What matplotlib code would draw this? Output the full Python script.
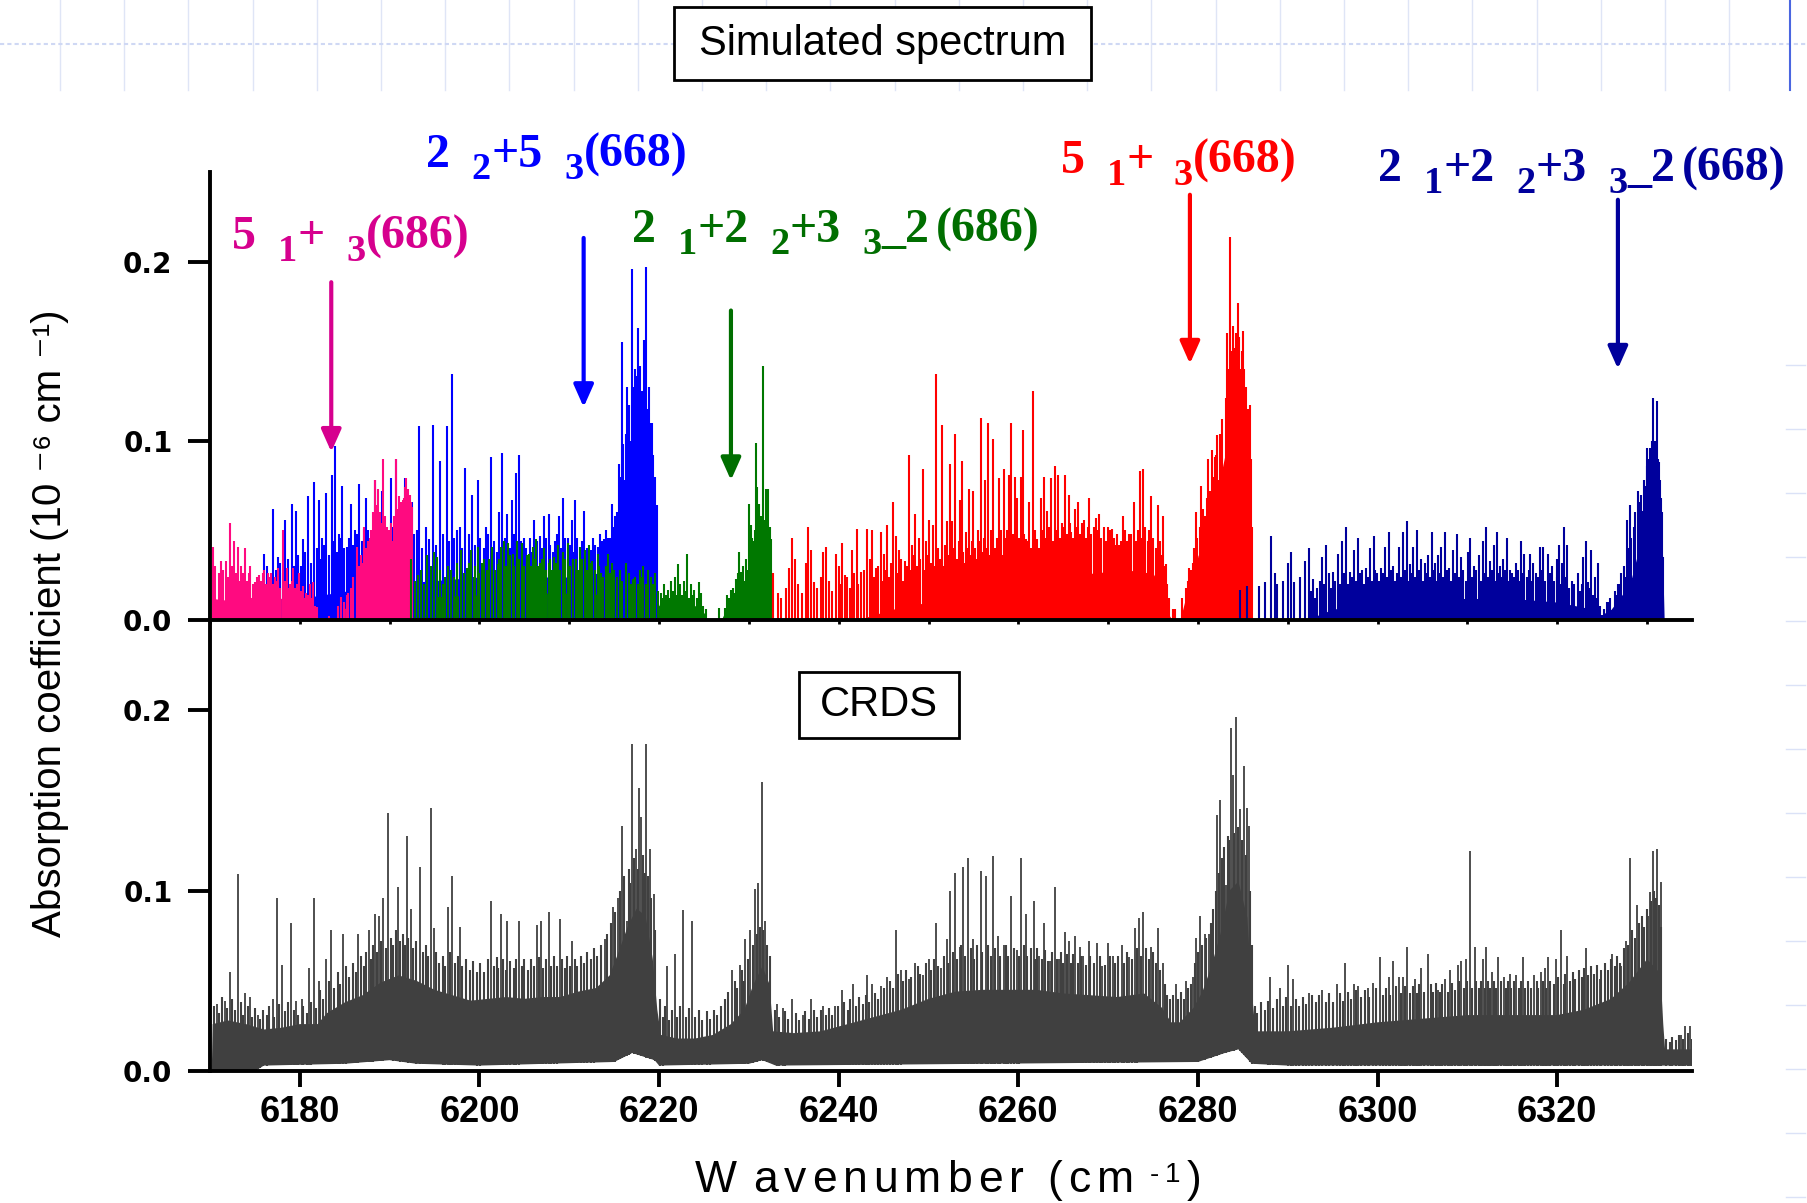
import numpy as np
import matplotlib
matplotlib.use("Agg")
import matplotlib.pyplot as plt
from matplotlib.patches import Rectangle
from matplotlib.lines import Line2D
from matplotlib.ticker import MultipleLocator

W, H = 1807, 1203
plt.rcParams['font.family'] = ['Liberation Sans', 'DejaVu Sans']

# ---- simulated stick spectra (wavenumber in cm-1, absorption in 1e-6 cm-1) ----
pink_wn = [6170.37, 6170.95, 6171.27, 6171.81, 6172.20, 6172.71, 6173.10, 6173.49, 6173.88, 6174.47,
           6175.06, 6175.45, 6176.03, 6176.42, 6176.82, 6177.21, 6177.60, 6178.18, 6178.57, 6178.96,
           6179.24, 6179.94, 6180.33, 6180.72, 6181.11, 6181.50, 6181.90, 6183.26,
           6184.63, 6185.41, 6186.39, 6187.17, 6187.76, 6188.34, 6188.73, 6189.24, 6189.71, 6190.30,
           6190.69, 6191.08, 6191.47, 6191.86, 6192.06, 6192.45]
pink_h = [0.041, 0.026, 0.033, 0.033, 0.054, 0.044, 0.041, 0.030, 0.040, 0.030,
          0.021, 0.025, 0.028, 0.026, 0.026, 0.024, 0.029, 0.050, 0.029, 0.020,
          0.029, 0.026, 0.019, 0.015, 0.020, 0.021, 0.007, 0.002,
          0.013, 0.015, 0.041, 0.052, 0.046, 0.078, 0.073, 0.090, 0.052, 0.044,
          0.090, 0.069, 0.067, 0.079, 0.073, 0.063]
pink_weak = [(6170.6, 0.030), (6171.1, 0.022), (6171.5, 0.028), (6172.0, 0.024), (6172.45, 0.030),
             (6172.9, 0.026), (6173.3, 0.022), (6173.7, 0.026), (6174.1, 0.022), (6174.3, 0.026),
             (6174.75, 0.020), (6175.25, 0.024), (6175.7, 0.022), (6175.85, 0.026), (6176.25, 0.020),
             (6176.6, 0.024), (6177.0, 0.020), (6177.4, 0.022), (6177.8, 0.018), (6178.35, 0.022),
             (6178.75, 0.018), (6179.1, 0.022), (6179.45, 0.018), (6179.7, 0.020), (6180.1, 0.016),
             (6180.5, 0.012), (6180.9, 0.014), (6181.3, 0.012), (6181.7, 0.008),
             (6184.2, 0.008), (6184.9, 0.010), (6185.2, 0.014), (6185.7, 0.018), (6185.95, 0.024),
             (6186.6, 0.030), (6186.8, 0.036), (6187.0, 0.032), (6187.4, 0.040), (6187.55, 0.044),
             (6187.95, 0.050), (6188.15, 0.060), (6188.5, 0.064), (6188.95, 0.060), (6189.1, 0.054),
             (6189.45, 0.058), (6189.9, 0.050), (6190.1, 0.054), (6190.5, 0.058), (6190.85, 0.062),
             (6191.25, 0.066), (6191.65, 0.068), (6191.75, 0.074), (6192.25, 0.070), (6192.35, 0.066)]
pink_fill_wn = [6170.2, 6170.3, 6172, 6174, 6176, 6178, 6180, 6181.5, 6182.2, 6182.4,
                6183.7, 6183.85, 6184.63, 6185.41, 6186.19, 6186.98, 6187.76, 6188.15, 6188.54, 6188.93,
                6189.32, 6190.10, 6190.49, 6190.88, 6191.27, 6191.66, 6192.25, 6192.45, 6192.55]
pink_fill_h = [0.0, 0.012, 0.011, 0.012, 0.014, 0.012, 0.009, 0.006, 0.002, 0.0,
               0.0, 0.004, 0.005, 0.008, 0.014, 0.018, 0.030, 0.036, 0.045, 0.042,
               0.040, 0.034, 0.036, 0.044, 0.050, 0.052, 0.052, 0.048, 0.0]

blue_wn = [6175.96, 6177.01, 6177.52, 6178.38, 6179.08, 6179.55, 6180.33, 6180.92, 6181.58, 6182.09,
           6182.48, 6182.87, 6183.54, 6183.93, 6184.32, 6184.75, 6185.22, 6185.73, 6186.19, 6186.59,
           6187.17, 6187.37, 6188.34, 6189.13, 6190.10, 6190.69, 6191.74, 6192.45, 6193.23, 6194.01,
           6194.79, 6195.65, 6196.35, 6196.98, 6197.45, 6197.84, 6198.39, 6199.17, 6199.87, 6200.73,
           6201.28, 6202.14, 6202.53, 6203.08, 6203.58, 6204.09, 6204.40, 6204.95, 6206.12, 6206.71,
           6207.22, 6207.69, 6208.66, 6208.86, 6209.25, 6209.84, 6210.30, 6210.62, 6211.67, 6212.38,
           6213.16, 6213.86, 6214.33, 6214.72, 6215.11, 6215.50, 6215.9, 6216.1, 6216.4, 6216.5,
           6216.9, 6217.0, 6217.4, 6217.7, 6217.9, 6218.3, 6218.5, 6218.9, 6219.2, 6219.6]
blue_h = [0.037, 0.062, 0.035, 0.056, 0.065, 0.061, 0.045, 0.069, 0.077, 0.067,
          0.046, 0.071, 0.081, 0.097, 0.048, 0.075, 0.041, 0.065, 0.050, 0.076,
          0.051, 0.068, 0.078, 0.072, 0.079, 0.090, 0.079, 0.066, 0.108, 0.052,
          0.109, 0.089, 0.108, 0.137, 0.050, 0.052, 0.085, 0.070, 0.078, 0.052,
          0.091, 0.060, 0.093, 0.059, 0.067, 0.082, 0.092, 0.046, 0.056, 0.047,
          0.058, 0.059, 0.048, 0.058, 0.068, 0.046, 0.056, 0.067, 0.061, 0.039,
          0.041, 0.045, 0.046, 0.065, 0.058, 0.087, 0.155, 0.078, 0.130, 0.084,
          0.100, 0.196, 0.120, 0.163, 0.142, 0.156, 0.197, 0.130, 0.110, 0.058]
blue_weak = [(6176.4, 0.030), (6176.7, 0.024), (6177.3, 0.028), (6177.8, 0.032), (6178.1, 0.026),
             (6178.7, 0.034), (6179.3, 0.030), (6179.8, 0.036), (6180.1, 0.030), (6180.6, 0.038),
             (6181.2, 0.032), (6181.9, 0.040), (6182.3, 0.034), (6182.7, 0.042), (6183.2, 0.036),
             (6183.7, 0.044), (6184.1, 0.038), (6184.55, 0.046), (6184.95, 0.040), (6185.5, 0.046),
             (6185.95, 0.042), (6186.4, 0.048), (6186.9, 0.044), (6187.6, 0.050), (6187.9, 0.044),
             (6188.6, 0.050), (6189.0, 0.046), (6189.5, 0.052), (6189.8, 0.048), (6190.4, 0.052),
             (6190.9, 0.048), (6191.3, 0.054), (6191.6, 0.050), (6192.0, 0.054), (6192.7, 0.048),
             (6193.0, 0.050), (6193.6, 0.040), (6194.4, 0.045), (6195.2, 0.042), (6195.9, 0.048),
             (6196.6, 0.044), (6197.2, 0.046), (6198.1, 0.040), (6198.8, 0.048), (6199.5, 0.042),
             (6200.1, 0.046), (6200.5, 0.040), (6201.0, 0.048), (6201.6, 0.044), (6201.9, 0.038),
             (6202.8, 0.046), (6203.35, 0.040), (6203.85, 0.048), (6204.6, 0.044), (6205.2, 0.040),
             (6205.6, 0.046), (6205.9, 0.038), (6206.4, 0.044), (6206.95, 0.040), (6207.45, 0.046),
             (6207.9, 0.042), (6208.2, 0.038), (6208.45, 0.044), (6209.05, 0.040), (6209.55, 0.046),
             (6210.05, 0.042), (6210.45, 0.038), (6210.9, 0.046), (6211.25, 0.040), (6211.45, 0.044),
             (6211.95, 0.040), (6212.6, 0.046), (6212.9, 0.042), (6213.4, 0.048), (6213.65, 0.044),
             (6214.1, 0.050), (6214.5, 0.046), (6214.9, 0.052),
             (6215.3, 0.060), (6215.7, 0.080), (6216.0, 0.098), (6216.3, 0.104), (6216.7, 0.120),
             (6217.15, 0.130), (6217.3, 0.140), (6217.55, 0.136), (6217.8, 0.130), (6218.1, 0.128),
             (6218.4, 0.124), (6218.7, 0.118), (6219.0, 0.110), (6219.35, 0.092), (6219.5, 0.080),
             (6219.75, 0.064)]
blue_fill_wn = [6175.5, 6176.0, 6180, 6185, 6190, 6195, 6200, 6205, 6210, 6213,
                6214.5, 6215.0, 6215.5, 6215.8, 6216.2, 6216.6, 6217.0, 6217.4, 6217.8, 6218.2,
                6218.6, 6219.0, 6219.4, 6219.7, 6219.85]
blue_fill_h = [0.0, 0.008, 0.012, 0.016, 0.020, 0.022, 0.024, 0.024, 0.024, 0.026,
               0.030, 0.035, 0.045, 0.060, 0.070, 0.080, 0.090, 0.095, 0.095, 0.092,
               0.088, 0.080, 0.068, 0.050, 0.0]

green_wn = [6192.37, 6193.15, 6194.21, 6194.99, 6195.26, 6196.16, 6196.82, 6197.92, 6198.62, 6199.01,
            6199.79, 6200.26, 6201.43, 6202.02, 6202.41, 6202.68, 6203.19, 6203.70, 6204.17, 6204.76,
            6205.54, 6205.93, 6206.32, 6206.71, 6207.22, 6207.69, 6208.27, 6208.78, 6209.25, 6209.84,
            6210.42, 6211.20, 6211.79, 6212.18, 6212.57, 6213.16, 6213.55, 6214.33, 6214.72, 6216.28,
            6217.06, 6217.85, 6218.24, 6218.82, 6219.60, 6220.19, 6220.58, 6220.97, 6221.36, 6221.75,
            6222.07, 6222.34, 6222.73, 6223.12, 6223.51, 6223.90, 6224.41, 6224.69, 6225.27, 6226.71,
            6227.34, 6227.61, 6228.00, 6228.59, 6228.90, 6229.17, 6229.56, 6229.96, 6230.23, 6230.54,
            6230.74, 6230.93, 6231.13, 6231.52, 6231.91, 6232.18, 6232.42]
green_h = [0.034, 0.025, 0.036, 0.038, 0.035, 0.024, 0.028, 0.039, 0.029, 0.039,
           0.041, 0.032, 0.041, 0.031, 0.041, 0.044, 0.043, 0.037, 0.044, 0.043,
           0.037, 0.041, 0.045, 0.032, 0.040, 0.032, 0.035, 0.042, 0.038, 0.043,
           0.034, 0.041, 0.039, 0.042, 0.033, 0.037, 0.026, 0.037, 0.032, 0.032,
           0.023, 0.028, 0.030, 0.028, 0.026, 0.015, 0.020, 0.017, 0.022, 0.024,
           0.031, 0.020, 0.022, 0.037, 0.020, 0.017, 0.021, 0.015, 0.006, 0.0065,
           0.0065, 0.014, 0.017, 0.023, 0.038, 0.027, 0.022, 0.065, 0.053, 0.044,
           0.099, 0.074, 0.065, 0.142, 0.073, 0.073, 0.045]
green_weak = [(6192.8, 0.022), (6193.5, 0.028), (6193.85, 0.020), (6194.55, 0.030), (6195.6, 0.028),
              (6195.9, 0.020), (6196.45, 0.030), (6197.15, 0.024), (6197.5, 0.032), (6198.25, 0.026),
              (6198.85, 0.032), (6199.35, 0.024), (6199.55, 0.030), (6200.0, 0.026), (6200.55, 0.034),
              (6200.85, 0.028), (6201.1, 0.034), (6201.7, 0.028), (6202.2, 0.034), (6202.9, 0.030),
              (6203.45, 0.036), (6203.9, 0.030), (6204.45, 0.034), (6205.0, 0.030), (6205.25, 0.036),
              (6205.7, 0.030), (6206.1, 0.034), (6206.5, 0.030), (6206.95, 0.034), (6207.45, 0.028),
              (6207.9, 0.034), (6208.05, 0.028), (6208.5, 0.032), (6209.0, 0.028), (6209.5, 0.034),
              (6210.1, 0.030), (6210.7, 0.034), (6210.95, 0.028), (6211.45, 0.034), (6212.0, 0.028),
              (6212.35, 0.032), (6212.85, 0.028), (6213.35, 0.030), (6213.8, 0.024), (6214.05, 0.030),
              (6214.5, 0.026), (6214.95, 0.028), (6215.3, 0.024), (6215.6, 0.028), (6215.9, 0.022),
              (6216.6, 0.026), (6216.85, 0.020), (6217.3, 0.024), (6217.6, 0.020), (6218.05, 0.024),
              (6218.5, 0.020), (6219.05, 0.024), (6219.3, 0.020), (6219.85, 0.016), (6220.4, 0.012),
              (6220.8, 0.014), (6221.15, 0.012), (6221.55, 0.016), (6221.9, 0.014), (6222.5, 0.014),
              (6222.9, 0.016), (6223.3, 0.012), (6223.7, 0.014), (6224.2, 0.012), (6224.55, 0.010),
              (6224.85, 0.008),
              (6227.8, 0.012), (6228.2, 0.018), (6228.45, 0.015), (6228.75, 0.026), (6229.05, 0.022),
              (6229.35, 0.030), (6229.7, 0.034), (6229.85, 0.028), (6230.1, 0.040), (6230.35, 0.046),
              (6230.65, 0.050), (6230.85, 0.046), (6231.05, 0.052), (6231.25, 0.048), (6231.4, 0.058),
              (6231.65, 0.052), (6231.8, 0.056), (6232.05, 0.050), (6232.3, 0.052)]
green_fill_wn = [6192.2, 6192.4, 6195, 6200, 6205, 6210, 6215, 6219.7, 6220.0, 6222,
                 6224, 6225.0, 6225.4, 6226.9, 6227.3, 6227.8, 6228.3, 6228.8, 6229.3, 6229.8,
                 6230.2, 6230.6, 6231.0, 6231.4, 6231.8, 6232.2, 6232.5, 6232.6]
green_fill_h = [0.0, 0.012, 0.013, 0.014, 0.015, 0.015, 0.014, 0.013, 0.008, 0.009,
                0.008, 0.004, 0.0, 0.0, 0.004, 0.008, 0.012, 0.016, 0.018, 0.022,
                0.032, 0.036, 0.038, 0.040, 0.036, 0.034, 0.034, 0.0]

red_wn = [6232.69, 6233.28, 6234.45, 6234.84, 6235.15, 6236.33, 6236.60, 6236.91, 6237.26, 6238.04,
          6238.28, 6238.63, 6239.72, 6240.04, 6240.39, 6240.70, 6241.48, 6241.99, 6242.46, 6243.12,
          6243.44, 6243.71, 6244.10, 6244.69, 6245.00, 6245.39, 6245.78, 6246.09, 6246.37, 6246.76,
          6247.34, 6247.85, 6248.13, 6248.52, 6248.91, 6249.38, 6249.69, 6250.08, 6250.47, 6250.86,
          6251.49, 6252.03, 6252.35, 6252.62, 6252.97, 6253.52, 6253.68, 6254.18, 6254.46, 6254.97,
          6255.55, 6255.83, 6256.33, 6256.65, 6256.92, 6257.23, 6257.82, 6258.09, 6258.37, 6258.68,
          6258.99, 6259.22, 6259.66, 6259.85, 6260.24, 6260.51, 6260.83, 6261.22, 6261.61, 6262.12,
          6262.51, 6262.90, 6263.17, 6263.68, 6264.07, 6264.46, 6264.85, 6265.24, 6265.63, 6265.91,
          6266.30, 6266.69, 6267.27, 6267.86, 6268.37, 6268.64, 6269.03, 6269.93, 6270.40, 6271.18,
          6271.65, 6272.36, 6272.82, 6273.53, 6273.92, 6274.82, 6275.56, 6276.07, 6276.46, 6277.44,
          6278.22, 6278.61, 6279.00, 6279.39, 6279.78, 6280.37, 6280.95, 6281.15, 6281.54, 6281.93,
          6282.12, 6282.30, 6282.95, 6283.2, 6283.4, 6283.6, 6283.9, 6284.1, 6284.4, 6284.7,
          6285.0, 6285.4, 6285.75, 6285.96]
red_h = [0.026, 0.015, 0.029, 0.046, 0.034, 0.032, 0.052, 0.039, 0.021, 0.024,
         0.038, 0.041, 0.037, 0.030, 0.043, 0.025, 0.039, 0.051, 0.027, 0.051,
         0.034, 0.050, 0.029, 0.049, 0.037, 0.053, 0.032, 0.066, 0.047, 0.039,
         0.033, 0.092, 0.042, 0.059, 0.046, 0.084, 0.044, 0.056, 0.053, 0.137,
         0.109, 0.055, 0.087, 0.055, 0.104, 0.067, 0.089, 0.049, 0.073, 0.072,
         0.050, 0.113, 0.078, 0.110, 0.050, 0.101, 0.079, 0.050, 0.084, 0.050,
         0.081, 0.110, 0.080, 0.068, 0.080, 0.106, 0.045, 0.066, 0.128, 0.045,
         0.068, 0.080, 0.061, 0.079, 0.086, 0.081, 0.054, 0.081, 0.070, 0.049,
         0.062, 0.066, 0.056, 0.068, 0.052, 0.057, 0.059, 0.052, 0.051, 0.042,
         0.058, 0.048, 0.066, 0.083, 0.084, 0.069, 0.064, 0.058, 0.031, 0.006,
         0.012, 0.018, 0.029, 0.032, 0.060, 0.075, 0.068, 0.090, 0.095, 0.091,
         0.103, 0.078, 0.084, 0.160, 0.118, 0.214, 0.164, 0.152, 0.177, 0.140,
         0.161, 0.110, 0.120, 0.052]
red_weak = [(6233.6, 0.012), (6234.1, 0.018), (6235.5, 0.020), (6235.9, 0.015), (6237.6, 0.018),
            (6238.9, 0.022), (6239.3, 0.016), (6240.2, 0.020), (6240.9, 0.024), (6241.2, 0.018),
            (6241.7, 0.026), (6242.2, 0.020), (6242.8, 0.028), (6243.9, 0.024), (6244.4, 0.030),
            (6244.85, 0.022), (6245.2, 0.028), (6245.6, 0.024), (6245.95, 0.030), (6246.55, 0.026),
            (6246.95, 0.034), (6247.15, 0.022), (6247.55, 0.030), (6247.95, 0.028), (6248.3, 0.036),
            (6248.7, 0.030), (6249.1, 0.034), (6249.55, 0.028), (6249.85, 0.036), (6250.25, 0.032),
            (6250.65, 0.030), (6251.05, 0.040), (6251.3, 0.034), (6251.7, 0.030), (6251.85, 0.042),
            (6252.2, 0.036), (6252.5, 0.030), (6252.8, 0.040), (6253.15, 0.034), (6253.35, 0.044),
            (6253.85, 0.038), (6254.05, 0.032), (6254.3, 0.040), (6254.65, 0.036), (6254.8, 0.044),
            (6255.15, 0.040), (6255.35, 0.034), (6255.7, 0.044), (6256.0, 0.038), (6256.15, 0.046),
            (6256.5, 0.040), (6256.8, 0.036), (6257.05, 0.044), (6257.4, 0.040), (6257.6, 0.046),
            (6257.95, 0.040), (6258.2, 0.036), (6258.55, 0.046), (6258.85, 0.042), (6259.1, 0.038),
            (6259.4, 0.048), (6259.75, 0.042), (6260.05, 0.046), (6260.4, 0.040), (6260.65, 0.048),
            (6261.0, 0.044), (6261.4, 0.040), (6261.8, 0.050), (6261.95, 0.044), (6262.3, 0.040),
            (6262.7, 0.050), (6263.0, 0.046), (6263.4, 0.052), (6263.85, 0.044), (6264.25, 0.050),
            (6264.65, 0.046), (6265.05, 0.052), (6265.45, 0.048), (6265.75, 0.054), (6266.1, 0.046),
            (6266.5, 0.052), (6266.9, 0.048), (6267.1, 0.054), (6267.5, 0.046), (6267.7, 0.052),
            (6268.1, 0.048), (6268.5, 0.044), (6268.85, 0.050), (6269.2, 0.046), (6269.5, 0.052),
            (6269.75, 0.044), (6270.15, 0.050), (6270.6, 0.046), (6270.85, 0.042), (6271.0, 0.048),
            (6271.4, 0.044), (6271.85, 0.050), (6272.1, 0.044), (6272.55, 0.048), (6273.05, 0.044),
            (6273.3, 0.050), (6273.75, 0.046), (6274.15, 0.052), (6274.4, 0.044), (6274.6, 0.050),
            (6275.0, 0.046), (6275.3, 0.040), (6275.75, 0.044), (6275.9, 0.036), (6276.25, 0.030),
            (6276.6, 0.020), (6276.8, 0.012), (6277.2, 0.006),
            (6278.9, 0.022), (6279.2, 0.028), (6279.6, 0.040), (6279.9, 0.046), (6280.2, 0.052),
            (6280.6, 0.062), (6280.8, 0.058), (6281.3, 0.072), (6281.7, 0.080), (6282.0, 0.092),
            (6282.5, 0.104), (6282.7, 0.112), (6283.1, 0.124), (6283.3, 0.140), (6283.7, 0.150),
            (6284.0, 0.148), (6284.25, 0.160), (6284.55, 0.158), (6284.85, 0.150), (6285.15, 0.140),
            (6285.3, 0.130), (6285.55, 0.118), (6285.85, 0.090)]
red_fill_wn = [6242, 6246, 6250, 6255, 6260, 6264, 6268, 6272, 6275, 6276.2,
               6276.6, 6277.0, 6277.8, 6278.0, 6278.5, 6279.0, 6279.5, 6280.0, 6280.5, 6281.0,
               6281.5, 6282.0, 6282.5, 6283.0, 6283.5, 6284.0, 6284.5, 6285.0, 6285.5, 6285.8,
               6285.95]
red_fill_h = [0.0, 0.006, 0.010, 0.014, 0.018, 0.022, 0.026, 0.028, 0.026, 0.015,
              0.004, 0.001, 0.0, 0.0, 0.010, 0.016, 0.024, 0.036, 0.040, 0.048,
              0.054, 0.070, 0.080, 0.092, 0.110, 0.120, 0.128, 0.120, 0.100, 0.070,
              0.0]

navy_wn = [6284.67, 6285.45, 6286.83, 6287.47, 6288.12, 6288.55, 6288.77, 6289.41, 6290.06, 6290.40,
           6290.70, 6291.35, 6291.91, 6292.34, 6292.77, 6293.81, 6294.24, 6294.58, 6295.02, 6295.58,
           6296.01, 6296.44, 6296.96, 6297.39, 6297.82, 6298.25, 6298.68, 6299.15, 6299.54, 6299.97,
           6300.40, 6300.83, 6301.27, 6301.70, 6302.43, 6302.86, 6303.29, 6303.64, 6303.98, 6304.41,
           6304.84, 6305.27, 6305.58, 6306.01, 6306.44, 6306.74, 6307.08, 6307.52, 6307.95, 6308.38,
           6308.89, 6309.33, 6310.02, 6310.32, 6310.75, 6311.31, 6311.74, 6312.08, 6312.47, 6312.90,
           6313.33, 6313.64, 6313.98, 6314.41, 6314.76, 6315.36, 6315.96, 6316.35, 6317.00, 6317.34,
           6318.08, 6318.38, 6318.94, 6319.37, 6319.93, 6320.23, 6320.53, 6320.79, 6321.09, 6321.65,
           6322.26, 6322.90, 6323.16, 6323.46, 6323.81, 6324.24, 6324.54, 6324.97, 6325.19, 6325.62,
           6326.27, 6326.57, 6326.91, 6327.56, 6327.77, 6328.07, 6328.94, 6329.50, 6329.84, 6330.02,
           6330.28, 6330.71, 6330.88, 6331.14, 6331.31, 6331.57, 6331.78]
navy_h = [0.017, 0.019, 0.019, 0.021, 0.047, 0.026, 0.020, 0.022, 0.032, 0.038,
          0.021, 0.024, 0.033, 0.040, 0.023, 0.035, 0.042, 0.026, 0.027, 0.037,
          0.044, 0.052, 0.027, 0.039, 0.046, 0.028, 0.029, 0.040, 0.047, 0.026,
          0.029, 0.041, 0.049, 0.030, 0.041, 0.049, 0.055, 0.031, 0.041, 0.050,
          0.034, 0.032, 0.036, 0.049, 0.032, 0.036, 0.041, 0.049, 0.029, 0.039,
          0.048, 0.035, 0.038, 0.046, 0.030, 0.036, 0.044, 0.052, 0.033, 0.042,
          0.049, 0.030, 0.034, 0.046, 0.028, 0.032, 0.044, 0.037, 0.037, 0.032,
          0.041, 0.041, 0.037, 0.030, 0.034, 0.042, 0.032, 0.052, 0.042, 0.022,
          0.026, 0.035, 0.044, 0.021, 0.039, 0.024, 0.032, 0.003, 0.006, 0.010,
          0.0065, 0.014, 0.020, 0.024, 0.056, 0.064, 0.072, 0.061, 0.075, 0.096,
          0.096, 0.124, 0.100, 0.122, 0.088, 0.068, 0.035]
navy_weak = [(6292.55, 0.016), (6293.0, 0.012), (6293.3, 0.018), (6293.55, 0.022), (6294.0, 0.020),
             (6294.8, 0.018), (6295.3, 0.022), (6295.8, 0.020), (6296.2, 0.026), (6296.7, 0.020),
             (6297.15, 0.024), (6297.6, 0.022), (6298.05, 0.026), (6298.45, 0.020), (6298.9, 0.024),
             (6299.35, 0.022), (6299.75, 0.028), (6300.2, 0.022), (6300.6, 0.026), (6301.05, 0.024),
             (6301.5, 0.028), (6301.9, 0.022), (6302.15, 0.026), (6302.65, 0.024), (6303.05, 0.028),
             (6303.45, 0.022), (6303.8, 0.026), (6304.2, 0.024), (6304.6, 0.028), (6305.05, 0.022),
             (6305.4, 0.026), (6305.8, 0.024), (6306.2, 0.028), (6306.6, 0.022), (6306.9, 0.026),
             (6307.3, 0.024), (6307.75, 0.028), (6308.15, 0.022), (6308.6, 0.026), (6309.1, 0.024),
             (6309.55, 0.028), (6309.8, 0.022), (6310.15, 0.026), (6310.5, 0.024), (6311.0, 0.028),
             (6311.5, 0.022), (6311.9, 0.026), (6312.25, 0.024), (6312.7, 0.028), (6313.1, 0.022),
             (6313.5, 0.026), (6313.8, 0.024), (6314.2, 0.028), (6314.6, 0.022), (6315.0, 0.026),
             (6315.2, 0.024), (6315.6, 0.028), (6315.8, 0.022), (6316.15, 0.026), (6316.6, 0.024),
             (6316.8, 0.028), (6317.2, 0.022), (6317.6, 0.026), (6317.85, 0.024), (6318.2, 0.028),
             (6318.65, 0.022), (6319.15, 0.026), (6319.6, 0.022), (6320.0, 0.024), (6320.4, 0.020),
             (6320.95, 0.024), (6321.3, 0.018), (6321.9, 0.020), (6322.5, 0.016), (6322.7, 0.020),
             (6323.3, 0.015), (6323.65, 0.018), (6324.0, 0.014), (6324.4, 0.012), (6324.75, 0.008),
             (6325.5, 0.010), (6325.9, 0.012), (6326.4, 0.016), (6326.8, 0.020), (6327.1, 0.026),
             (6327.4, 0.030), (6327.9, 0.040), (6328.2, 0.046), (6328.5, 0.052), (6328.7, 0.060),
             (6329.1, 0.066), (6329.3, 0.070), (6329.65, 0.078), (6329.95, 0.086), (6330.15, 0.090),
             (6330.45, 0.094), (6330.6, 0.100), (6331.0, 0.098), (6331.2, 0.090), (6331.45, 0.078),
             (6331.65, 0.060)]
navy_fill_wn = [6292.0, 6295, 6300, 6305, 6310, 6315, 6320, 6323, 6324.6, 6324.8,
                6324.9, 6325.3, 6326.0, 6326.6, 6327.2, 6327.8, 6328.3, 6328.8, 6329.3, 6329.8,
                6330.3, 6330.8, 6331.3, 6331.7, 6331.9]
navy_fill_h = [0.0, 0.006, 0.010, 0.012, 0.012, 0.012, 0.010, 0.007, 0.003, 0.0,
               0.0, 0.004, 0.006, 0.010, 0.014, 0.018, 0.024, 0.034, 0.042, 0.054,
               0.066, 0.072, 0.064, 0.040, 0.0]

# ---- CRDS measurement ----
crds_wn = [6170.82, 6171.67, 6172.18, 6173.16, 6173.93, 6174.44, 6175.29, 6176.99, 6177.42, 6178.06,
           6179.04, 6179.55, 6180.19, 6181.04, 6181.60, 6182.10, 6182.88, 6183.51, 6184.79, 6186.50,
           6187.65, 6188.37, 6188.80, 6189.27, 6189.86, 6190.89, 6191.91, 6192.33, 6193.36, 6194.55,
           6194.89, 6196.47, 6196.98, 6197.87, 6201.28, 6202.35, 6203.11, 6204.39, 6206.39, 6206.82,
           6207.72, 6208.95, 6210.32, 6213.94, 6214.92, 6215.43, 6215.90, 6216.41, 6216.96, 6217.47,
           6217.77, 6218.03, 6218.58, 6218.96, 6219.39, 6220.88, 6221.74, 6222.67, 6223.65, 6228.13,
           6228.98, 6229.62, 6230.13, 6230.68, 6231.02, 6231.41, 6231.83, 6233.15, 6233.74, 6234.85,
           6236.00, 6236.94, 6238.26, 6239.62, 6240.35, 6241.54, 6243.16, 6243.71, 6244.74, 6245.42,
           6246.36, 6246.95, 6247.80, 6248.49, 6249.42, 6250.06, 6250.87, 6251.43, 6252.07, 6252.41,
           6253.00, 6253.51, 6253.81, 6254.41, 6254.92, 6255.81, 6256.37, 6257.18, 6257.77, 6258.37,
           6259.22, 6259.86, 6260.33, 6260.80, 6261.69, 6262.33, 6262.85, 6263.57, 6264.04, 6264.55,
           6265.19, 6265.61, 6266.34, 6266.81, 6267.23, 6267.83, 6268.81, 6269.36, 6269.96, 6270.51,
           6271.49, 6272.35, 6272.94, 6273.45, 6273.92, 6274.82, 6275.50, 6276.05, 6277.54, 6278.61,
           6279.46, 6279.80, 6280.23, 6280.74, 6281.17, 6282.10, 6282.49, 6283.08, 6283.64, 6283.85,
           6284.28, 6284.70, 6285.13, 6285.43, 6285.64, 6288.07, 6289.18, 6290.03, 6290.58, 6292.37,
           6293.86, 6295.44, 6296.38, 6297.32, 6297.80, 6298.91, 6299.47, 6300.29, 6301.25, 6301.70,
           6302.37, 6302.81, 6303.29, 6304.11, 6304.85, 6305.60, 6306.71, 6307.53, 6308.01, 6308.94,
           6309.31, 6309.79, 6310.27, 6310.79, 6311.72, 6312.09, 6312.72, 6313.39, 6314.06, 6314.69,
           6315.43, 6316.17, 6317.40, 6318.14, 6318.59, 6318.96, 6319.89, 6320.44, 6321.11, 6323.15,
           6324.79, 6326.12, 6327.12, 6327.68, 6328.05, 6328.91, 6330.09, 6330.28, 6330.65, 6331.13,
           6331.58, 6333.81, 6334.25, 6334.81]
crds_h = [0.037, 0.039, 0.055, 0.109, 0.043, 0.041, 0.031, 0.040, 0.096, 0.059,
          0.082, 0.039, 0.040, 0.057, 0.096, 0.050, 0.062, 0.078, 0.076, 0.076,
          0.078, 0.087, 0.086, 0.096, 0.143, 0.102, 0.130, 0.090, 0.113, 0.146,
          0.079, 0.091, 0.108, 0.080, 0.094, 0.087, 0.083, 0.083, 0.081, 0.083,
          0.088, 0.084, 0.072, 0.073, 0.091, 0.096, 0.136, 0.083, 0.181, 0.123,
          0.157, 0.141, 0.181, 0.123, 0.098, 0.058, 0.065, 0.089, 0.083, 0.056,
          0.059, 0.073, 0.078, 0.101, 0.104, 0.160, 0.083, 0.037, 0.035, 0.040,
          0.031, 0.040, 0.036, 0.036, 0.045, 0.048, 0.053, 0.048, 0.047, 0.052,
          0.078, 0.056, 0.051, 0.060, 0.053, 0.062, 0.082, 0.057, 0.073, 0.100,
          0.110, 0.069, 0.113, 0.118, 0.073, 0.111, 0.108, 0.119, 0.075, 0.070,
          0.097, 0.067, 0.118, 0.087, 0.094, 0.064, 0.082, 0.061, 0.102, 0.062,
          0.077, 0.072, 0.075, 0.069, 0.064, 0.072, 0.071, 0.058, 0.071, 0.064,
          0.070, 0.063, 0.079, 0.085, 0.088, 0.069, 0.079, 0.060, 0.048, 0.050,
          0.052, 0.074, 0.086, 0.076, 0.076, 0.142, 0.150, 0.103, 0.190, 0.164,
          0.196, 0.145, 0.169, 0.146, 0.136, 0.052, 0.046, 0.059, 0.051, 0.043,
          0.045, 0.048, 0.060, 0.048, 0.047, 0.046, 0.049, 0.063, 0.052, 0.061,
          0.052, 0.052, 0.069, 0.051, 0.057, 0.065, 0.045, 0.051, 0.056, 0.059,
          0.061, 0.062, 0.122, 0.069, 0.062, 0.069, 0.055, 0.063, 0.052, 0.054,
          0.053, 0.063, 0.053, 0.055, 0.057, 0.063, 0.062, 0.078, 0.064, 0.068,
          0.051, 0.065, 0.058, 0.072, 0.118, 0.092, 0.086, 0.099, 0.122, 0.123,
          0.105, 0.020, 0.025, 0.025]
# weaker lines riding on the dense part of the trace
crds_weak = [(6170.5, .036), (6171.0, .032), (6171.3, .041), (6171.9, .035), (6172.5, .040), (6172.8, .034),
             (6173.4, .038), (6173.7, .031), (6174.2, .036), (6174.7, .030), (6175.0, .035), (6175.6, .029),
             (6175.9, .034), (6176.3, .031), (6176.6, .036), (6177.1, .030), (6177.7, .037), (6178.3, .033),
             (6178.7, .038), (6179.3, .034), (6179.8, .031), (6180.4, .036), (6180.8, .032), (6181.3, .038),
             (6181.8, .035), (6182.3, .045), (6182.6, .040), (6183.2, .050), (6183.8, .046), (6184.2, .055),
             (6184.5, .048), (6185.1, .058), (6185.5, .052), (6185.9, .060), (6186.2, .055), (6186.8, .064),
             (6187.1, .058), (6187.4, .066), (6187.9, .062), (6188.1, .070), (6188.6, .066), (6189.0, .072),
             (6189.6, .068), (6190.1, .074), (6190.4, .070), (6190.7, .078), (6191.2, .072), (6191.5, .076),
             (6191.7, .070), (6192.1, .074), (6192.6, .068), (6192.9, .072), (6193.7, .066), (6194.1, .070),
             (6194.3, .064), (6195.2, .066), (6195.5, .060), (6195.9, .064), (6196.2, .058), (6196.7, .066),
             (6197.3, .060), (6197.6, .064), (6198.1, .058), (6198.5, .062), (6198.9, .056), (6199.3, .061),
             (6199.7, .055), (6200.1, .060), (6200.5, .055), (6200.9, .062), (6201.6, .058), (6201.9, .063),
             (6202.1, .057), (6202.6, .062), (6202.9, .056), (6203.4, .061), (6203.8, .057), (6204.1, .062),
             (6204.7, .058), (6205.0, .062), (6205.4, .056), (6205.7, .062), (6206.1, .058), (6206.6, .063),
             (6207.1, .057), (6207.4, .062), (6208.0, .058), (6208.3, .064), (6208.6, .058), (6209.2, .062),
             (6209.5, .057), (6209.8, .064), (6210.1, .058), (6210.6, .062), (6210.9, .058), (6211.3, .064),
             (6211.6, .060), (6212.0, .066), (6212.4, .062), (6212.7, .068), (6213.1, .064), (6213.5, .070),
             (6214.2, .076), (6214.6, .082), (6215.1, .088), (6215.6, .100), (6216.1, .108), (6216.6, .112),
             (6216.8, .104), (6217.2, .118), (6217.6, .112), (6218.2, .120), (6218.4, .110), (6218.8, .108),
             (6219.1, .096), (6219.6, .078), (6220.1, .040), (6220.4, .030), (6220.7, .036), (6221.1, .028),
             (6221.4, .034), (6222.0, .030), (6222.3, .036), (6223.0, .030), (6223.3, .035), (6224.0, .030),
             (6224.4, .034), (6224.8, .028), (6225.3, .033), (6225.7, .029), (6226.1, .034), (6226.5, .031),
             (6226.9, .036), (6227.3, .040), (6227.7, .044), (6228.4, .050), (6228.7, .046), (6229.2, .056),
             (6229.4, .050), (6229.9, .062), (6230.4, .070), (6230.9, .076), (6231.2, .080), (6231.6, .078),
             (6232.0, .070), (6232.3, .064), (6232.9, .034), (6233.4, .030), (6234.0, .033), (6234.4, .029),
             (6235.2, .032), (6235.6, .028), (6236.3, .033), (6236.7, .029), (6237.2, .034), (6237.6, .030),
             (6238.0, .034), (6238.6, .031), (6238.9, .035), (6239.3, .031), (6239.9, .036), (6240.6, .038),
             (6241.0, .034), (6241.3, .040), (6241.9, .036), (6242.3, .041), (6242.7, .037), (6243.0, .042),
             (6243.4, .038), (6244.0, .043), (6244.4, .040), (6245.0, .046), (6245.7, .050), (6246.0, .046),
             (6246.6, .054), (6247.2, .050), (6247.5, .056), (6248.1, .052), (6248.8, .058), (6249.1, .054),
             (6249.7, .060), (6250.3, .056), (6250.6, .062), (6251.1, .058), (6251.7, .064), (6252.2, .060),
             (6252.7, .066), (6253.2, .062), (6253.6, .070), (6254.1, .064), (6254.7, .068), (6255.1, .062),
             (6255.4, .070), (6256.0, .066), (6256.6, .070), (6256.9, .064), (6257.4, .068), (6258.0, .064),
             (6258.6, .070), (6258.9, .064), (6259.5, .068), (6260.1, .064), (6260.6, .070), (6261.0, .064),
             (6261.4, .068), (6261.9, .062), (6262.1, .068), (6262.6, .062), (6263.0, .067), (6263.3, .061),
             (6263.8, .066), (6264.3, .062), (6264.8, .066), (6265.0, .060), (6265.4, .065), (6265.9, .060),
             (6266.1, .065), (6266.6, .060), (6267.0, .064), (6267.5, .059), (6268.0, .064), (6268.4, .060),
             (6269.1, .064), (6269.6, .059), (6270.2, .064), (6270.8, .060), (6271.1, .064), (6271.8, .060),
             (6272.1, .066), (6272.6, .062), (6273.2, .068), (6273.7, .064), (6274.2, .068), (6274.5, .062),
             (6275.0, .066), (6275.3, .060), (6275.8, .056), (6276.3, .048), (6276.6, .042), (6276.9, .040),
             (6277.2, .042), (6277.8, .040), (6278.1, .044), (6278.4, .040), (6278.9, .046), (6279.2, .048),
             (6279.7, .060), (6280.0, .066), (6280.5, .070), (6280.9, .074), (6281.4, .082), (6281.7, .090),
             (6282.0, .100), (6282.3, .110), (6282.7, .118), (6282.9, .124), (6283.3, .130), (6283.5, .128),
             (6284.0, .132), (6284.5, .135), (6284.9, .128), (6285.3, .120), (6285.8, .100), (6286.0, .070),
             (6286.3, .036), (6286.6, .032), (6287.0, .038), (6287.5, .034), (6287.8, .039), (6288.4, .035),
             (6288.8, .040), (6289.5, .036), (6289.8, .041), (6290.3, .036), (6290.9, .040), (6291.3, .036),
             (6291.7, .041), (6292.0, .037), (6292.7, .042), (6293.1, .038), (6293.5, .042), (6294.2, .038),
             (6294.6, .043), (6295.0, .038), (6295.8, .043), (6296.1, .039), (6296.7, .044), (6297.0, .040),
             (6297.6, .045), (6298.2, .041), (6298.6, .045), (6299.0, .041), (6299.8, .046), (6300.6, .042),
             (6300.9, .046), (6301.4, .042), (6302.0, .047), (6302.6, .043), (6303.0, .047), (6303.6, .043),
             (6303.9, .047), (6304.4, .043), (6304.6, .048), (6305.2, .044), (6305.9, .048), (6306.2, .044),
             (6306.5, .049), (6306.9, .044), (6307.2, .048), (6307.8, .044), (6308.3, .049), (6308.6, .045),
             (6309.1, .050), (6309.6, .046), (6310.0, .050), (6310.5, .046), (6311.0, .050), (6311.3, .046),
             (6311.5, .050), (6311.9, .046), (6312.3, .050), (6312.5, .046), (6313.0, .050), (6313.2, .046),
             (6313.7, .050), (6314.3, .046), (6314.5, .050), (6314.9, .046), (6315.2, .050), (6315.7, .046),
             (6316.0, .050), (6316.4, .046), (6316.7, .050), (6317.1, .046), (6317.7, .050), (6317.9, .046),
             (6318.4, .050), (6318.8, .046), (6319.2, .050), (6319.6, .048), (6320.1, .052), (6320.7, .048),
             (6320.9, .054), (6321.4, .050), (6321.7, .055), (6322.0, .051), (6322.4, .056), (6322.7, .052),
             (6323.0, .057), (6323.4, .053), (6323.7, .058), (6324.1, .054), (6324.4, .059), (6324.9, .056),
             (6325.3, .060), (6325.6, .056), (6326.0, .062), (6326.4, .058), (6326.7, .064), (6327.0, .060),
             (6327.4, .068), (6327.9, .070), (6328.3, .078), (6328.6, .074), (6329.1, .082), (6329.4, .086),
             (6329.7, .080), (6330.0, .090), (6330.4, .094), (6330.8, .100), (6331.0, .096), (6331.3, .092),
             (6331.5, .080), (6332.1, .018), (6332.5, .016), (6332.8, .019), (6333.2, .017), (6333.5, .020),
             (6334.0, .018), (6334.5, .021), (6335.0, .018)]
# upper edge of the unresolved part of the CRDS trace
crds_env_wn = [6170.2, 6170.3, 6172, 6174, 6176, 6178, 6180, 6182, 6183, 6185,
               6187, 6189, 6191, 6193, 6195, 6197, 6199, 6201, 6203, 6205,
               6207, 6209, 6211, 6213, 6214.5, 6215.5, 6216.5, 6217.5, 6218.5, 6219.3,
               6219.8, 6220.2, 6222, 6224, 6226, 6228, 6229.5, 6230.5, 6231.5, 6232.3,
               6232.7, 6235, 6238, 6241, 6244, 6247, 6250, 6253, 6256, 6259,
               6262, 6265, 6268, 6271, 6274, 6276, 6277, 6278, 6279.5, 6280.5,
               6281.5, 6282.5, 6283.5, 6284.5, 6285.5, 6286, 6286.4, 6290, 6295, 6300,
               6305, 6310, 6315, 6320, 6323, 6326, 6328, 6330, 6331.5, 6331.8,
               6332, 6335]
crds_env = [0.0, 0.026, 0.028, 0.026, 0.023, 0.024, 0.026, 0.026, 0.032, 0.038,
            0.042, 0.049, 0.053, 0.050, 0.045, 0.042, 0.039, 0.040, 0.041, 0.040,
            0.041, 0.041, 0.044, 0.046, 0.053, 0.066, 0.080, 0.090, 0.086, 0.062,
            0.034, 0.020, 0.018, 0.018, 0.020, 0.026, 0.034, 0.048, 0.058, 0.048,
            0.022, 0.021, 0.022, 0.026, 0.030, 0.034, 0.040, 0.044, 0.045, 0.045,
            0.045, 0.043, 0.042, 0.041, 0.043, 0.035, 0.027, 0.027, 0.035, 0.044,
            0.058, 0.076, 0.100, 0.105, 0.085, 0.044, 0.022, 0.022, 0.024, 0.027,
            0.029, 0.031, 0.031, 0.031, 0.034, 0.040, 0.049, 0.062, 0.054, 0.026,
            0.012, 0.012]
# noise floor of the trace
crds_floor_wn = [6170.2, 6175, 6176, 6185, 6190, 6193, 6200, 6215, 6217, 6219.5,
                 6220, 6230, 6231.5, 6233, 6280, 6283, 6284.5, 6286, 6290, 6335]
crds_floor = [0.0, 0.0, 0.003, 0.004, 0.006, 0.004, 0.003, 0.005, 0.010, 0.006,
              0.003, 0.004, 0.006, 0.003, 0.005, 0.010, 0.012, 0.004, 0.003, 0.003]

x_ticks = [6180, 6200, 6220, 6240, 6260, 6280, 6300, 6320]
y_ticks = [0.0, 0.1, 0.2]
y_tick_labels = ['0.0', '0.1', '0.2']

# band arrows: position, tail and tip heights
arrow_wn = [6183.5, 6211.6, 6228.0, 6279.1, 6326.75]
arrow_tail = [0.1885, 0.2132, 0.1727, 0.2373, 0.2345]
arrow_tip = [0.0938, 0.1188, 0.078, 0.1430, 0.1402]

PINK, MAGENTA = '#ff0a80', '#d6008e'
BLUE, GREEN, GREEN_TXT = '#0000ff', '#007800', '#006e00'
RED, NAVY, GRAY = '#ff0000', '#00009c', '#404040'
arrow_colors = [MAGENTA, BLUE, GREEN_TXT, RED, NAVY]


def fxy(x, y):
    return x / W, 1 - y / H


fig = plt.figure(figsize=(W / 100, H / 100), dpi=100)

# faint slide grid behind the header
for gx in np.arange(60, 1740, 64.2):
    fig.add_artist(Line2D([gx / W] * 2, [1, 1 - 90 / H], color='#dfe5f6', lw=1.0, zorder=0))
fig.add_artist(Line2D([0, 1], [1 - 44 / H] * 2, color='#cfd8f4', lw=1.5, ls=(0, (2, 1.5)), zorder=0))
fig.add_artist(Line2D([1790 / W] * 2, [1, 1 - 90 / H], color='#4a66e0', lw=1.5, zorder=0))
for gy in np.arange(365, 1203, 64):
    fig.add_artist(Line2D([1786 / W, 1805 / W], [1 - gy / H] * 2, color='#dbe2f7', lw=1.0, zorder=0))

left, right = 210, 1692
ax_top = fig.add_axes([left / W, 1 - 620 / H, (right - left) / W, (620 - 172) / H])
ax_bot = fig.add_axes([left / W, 1 - 1071 / H, (right - left) / W, (1071 - 620) / H])
ax_top.patch.set_alpha(0)
ax_bot.patch.set_alpha(0)

for ax in (ax_top, ax_bot):
    ax.set_xlim(6170, 6335)
    ax.set_ylim(0, 0.25)
    ax.spines[['top', 'right']].set_visible(False)
    ax.spines['left'].set_linewidth(2.8)
    ax.spines['bottom'].set_linewidth(2.8)
    ax.set_yticks(y_ticks)
    ax.set_yticklabels(y_tick_labels, fontfamily='DejaVu Sans', fontweight='bold', fontsize=20)
    ax.tick_params(axis='y', direction='out', length=16, width=2.8, pad=11)

ax_top.xaxis.set_major_locator(MultipleLocator(10))
ax_top.tick_params(axis='x', direction='out', length=3, width=2, labelbottom=False)
ax_bot.set_xticks(x_ticks)
ax_bot.set_xticklabels([str(t) for t in x_ticks], fontweight='bold', fontsize=26)
ax_bot.tick_params(axis='x', direction='out', length=11.5, width=2.8, pad=6)

# simulated bands: unresolved part as a filled envelope, lines as sticks
bands = [(blue_fill_wn, blue_fill_h, blue_wn, blue_h, blue_weak, BLUE),
         (pink_fill_wn, pink_fill_h, pink_wn, pink_h, pink_weak, PINK),
         (green_fill_wn, green_fill_h, green_wn, green_h, green_weak, GREEN),
         (red_fill_wn, red_fill_h, red_wn, red_h, red_weak, RED),
         (navy_fill_wn, navy_fill_h, navy_wn, navy_h, navy_weak, NAVY)]
for fw, fh, sw, sh, weak, c in bands:
    ww, wh = np.array(weak).T
    ax_top.fill_between(fw, 0, fh, color=c, lw=0)
    ax_top.vlines(ww, 0, wh, colors=c, lw=1.5)
    ax_top.vlines(sw, 0, sh, colors=c, lw=1.5)

for x, y0, y1, c in zip(arrow_wn, arrow_tail, arrow_tip, arrow_colors):
    ax_top.annotate('', xy=(x, y1), xytext=(x, y0),
                    arrowprops=dict(arrowstyle='-|>,head_width=0.2,head_length=0.45',
                                    color=c, lw=3, mutation_scale=30, shrinkA=0, shrinkB=0))

# CRDS trace
floor_wn = np.array(crds_floor_wn)
ax_bot.fill(np.concatenate([crds_env_wn, floor_wn[::-1]]),
            np.concatenate([crds_env, np.array(crds_floor)[::-1]]), color=GRAY, lw=0)
cw, ch = np.array(crds_weak).T
ax_bot.vlines(cw, np.interp(cw, crds_floor_wn, crds_floor), ch, colors=GRAY, lw=1.5)
ax_bot.vlines(crds_wn, np.interp(crds_wn, crds_floor_wn, crds_floor), crds_h, colors=GRAY, lw=1.3)

ren = fig.canvas.get_renderer()


def draw_runs(x, y, runs, color, size=34.5):
    # band label: normal / subscript pieces, numbers are blank gaps in px
    for item in runs:
        if not isinstance(item, tuple):
            x += item
            continue
        text, sub = item
        t = fig.text(*fxy(x, y + (12 if sub else 0)), text, fontsize=size * (0.8 if sub else 1.0),
                     color=color, family='Liberation Serif', weight='bold', va='baseline')
        x += t.get_window_extent(ren).width


draw_runs(232, 249, [('5', 0), 22, ('1', 1), ('+', 0), 22, ('3', 1), ('(686)', 0)], MAGENTA)
draw_runs(426, 167, [('2', 0), 22, ('2', 1), ('+5', 0), 22, ('3', 1), ('(668)', 0)], BLUE)
draw_runs(632, 242, [('2', 0), 22, ('1', 1), ('+2', 0), 22, ('2', 1), ('+3', 0), 22, ('3', 1),
                     ('_2', 0), 6, ('(686)', 0)], GREEN_TXT)
draw_runs(1061, 173, [('5', 0), 22, ('1', 1), ('+', 0), 20, ('3', 1), ('(668)', 0)], RED)
draw_runs(1378, 181, [('2', 0), 22, ('1', 1), ('+2', 0), 22, ('2', 1), ('+3', 0), 22, ('3', 1),
                      ('_2', 0), 6, ('(668)', 0)], NAVY)


def tracked_text(xc, y, pieces, track):
    # letter-spaced text centred on xc; pieces are (text, size, dy) or gaps in px
    items = []
    for p in pieces:
        if not isinstance(p, tuple):
            items.append((None, p, 0))
            continue
        s, size, dy = p
        for ch_ in s:
            if ch_ == ' ':
                items.append((None, size * 0.28 * 100 / 72, 0))
                continue
            t = fig.text(0, 0, ch_, fontsize=size, va='baseline')
            items.append((t, t.get_window_extent(ren).width, dy))
    total = sum(w for _, w, _ in items) + track * (len(items) - 1)
    x = xc - total / 2
    for t, w, dy in items:
        if t is not None:
            t.set_position(fxy(x, y + dy))
        x += w + track


tracked_text(948, 1192, [('W', 32, 0), 4, ('avenumber (cm', 32, 0), 4, ('-1', 20, -10), (')', 32, 0)], 6)

fig.text(*fxy(50, 623), 'Absorption coefficient (10 \u207b\u2076 cm \u207b\u00b9)', rotation=90,
         ha='center', va='center', fontsize=29)

# boxed captions
for (x0, y0, x1, y1), label in [((674, 7, 1091, 80), 'Simulated spectrum'),
                                ((799, 672, 959, 738), 'CRDS')]:
    fig.add_artist(Rectangle(fxy(x0, y1), (x1 - x0) / W, (y1 - y0) / H, transform=fig.transFigure,
                             facecolor='white', edgecolor='black', lw=2, zorder=3))
    fig.text(*fxy((x0 + x1) / 2, (y0 + y1) / 2), label, ha='center', va='center', fontsize=30, zorder=4)

fig.savefig('out.png', dpi=100)
